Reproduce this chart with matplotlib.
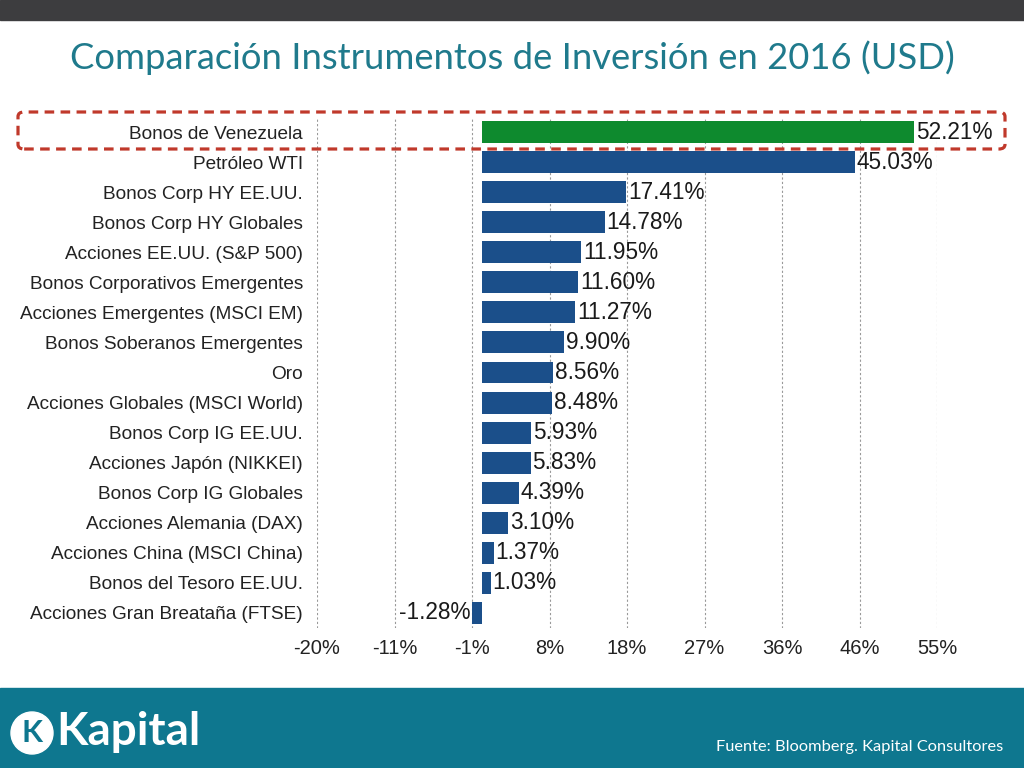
import numpy as np
import matplotlib.pyplot as plt
from matplotlib.patches import FancyBboxPatch, Rectangle, Circle

# Datos
labels = [
    "Bonos de Venezuela", "Petróleo WTI", "Bonos Corp HY EE.UU.",
    "Bonos Corp HY Globales", "Acciones EE.UU. (S&P 500)",
    "Bonos Corporativos Emergentes", "Acciones Emergentes (MSCI EM)",
    "Bonos Soberanos Emergentes", "Oro", "Acciones Globales (MSCI World)",
    "Bonos Corp IG EE.UU.", "Acciones Japón (NIKKEI)", "Bonos Corp IG Globales",
    "Acciones Alemania (DAX)", "Acciones China (MSCI China)",
    "Bonos del Tesoro EE.UU.", "Acciones Gran Breataña (FTSE)",
]
values = [52.21, 45.03, 17.41, 14.78, 11.95, 11.60, 11.27, 9.90, 8.56, 8.48,
          5.93, 5.83, 4.39, 3.10, 1.37, 1.03, -1.28]
tick_vals = np.linspace(-20, 55, 9)
tick_labels = ["-20%", "-11%", "-1%", "8%", "18%", "27%", "36%", "46%", "55%"]

plt.rcParams['font.family'] = ['Liberation Sans', 'DejaVu Sans']

fig = plt.figure(figsize=(10.24, 7.68), dpi=100)
W, H = 1024, 768

# barra superior y banda inferior
fig.add_artist(Rectangle((0, 1 - 20 / H), 1, 20 / H, transform=fig.transFigure,
                         color='#3d3d3f', zorder=0))
fig.add_artist(Rectangle((0, 0), 1, 80 / H, transform=fig.transFigure,
                         color='#0e778f', zorder=0))

fig.text(0.5, 1 - 58 / H, "Comparación Instrumentos de Inversión en 2016 (USD)",
         ha='center', va='center', fontsize=26.2, color='#1f7a8c',
         family=['Lato', 'DejaVu Sans'])

ax = fig.add_axes([317 / W, 1 - 628 / H, 620 / W, 511 / H])
y = np.arange(len(values))
colors = ['#0e8a2e'] + ['#1b4f8a'] * (len(values) - 1)
ax.barh(y, values, height=0.73, color=colors, zorder=3)
ax.set_ylim(len(values) - 0.5, -0.5)
ax.set_xlim(-20, 55)
ax.set_xticks(tick_vals)
ax.set_xticklabels(tick_labels, fontsize=14.5, color='#222222')
ax.set_yticks(y)
ax.set_yticklabels(labels, fontsize=13.7, color='#222222')
ax.tick_params(length=0, pad=10)
ax.tick_params(axis='x', pad=8)
for s in ax.spines.values():
    s.set_visible(False)
ax.grid(axis='x', linestyle=(0, (2, 2)), color='#999999', linewidth=0.8, zorder=0)

for yi, v in zip(y, values):
    txt = f"{v:.2f}%"
    if v >= 0:
        ax.text(v + 0.2, yi, txt, va='center', ha='left', fontsize=16.3, color='#1a1a1a', zorder=4)
    else:
        ax.text(v - 0.2, yi, txt, va='center', ha='right', fontsize=16.3, color='#1a1a1a', zorder=4)

# recuadro punteado rojo
box = FancyBboxPatch((18 / W, 1 - 149 / H), 987 / W, 37 / H,
                     boxstyle="round,pad=0,rounding_size=0.006",
                     transform=fig.transFigure, fill=False, edgecolor='#c0392b',
                     linewidth=2.3, linestyle=(0, (3, 2)), zorder=5)
fig.add_artist(box)

# logo
fig.add_artist(Circle((0.32, 0.35), 0.21, transform=fig.dpi_scale_trans,
                      color='white', zorder=2))
fig.text(32 / W, 1 - 733 / H, "K", ha='center', va='center', fontsize=22,
         fontweight='bold', color='#0e778f', family=['Lato', 'DejaVu Sans'])
fig.text(56 / W, 1 - 732 / H, "Kapital", ha='left', va='center', fontsize=33,
         fontweight='bold', color='white', family=['Lato', 'DejaVu Sans'])
fig.text(1003 / W, 1 - 747 / H, "Fuente: Bloomberg. Kapital Consultores",
         ha='right', va='center', fontsize=11.8, color='white',
         family=['Lato', 'DejaVu Sans'])

fig.savefig("out.png", dpi=100)
